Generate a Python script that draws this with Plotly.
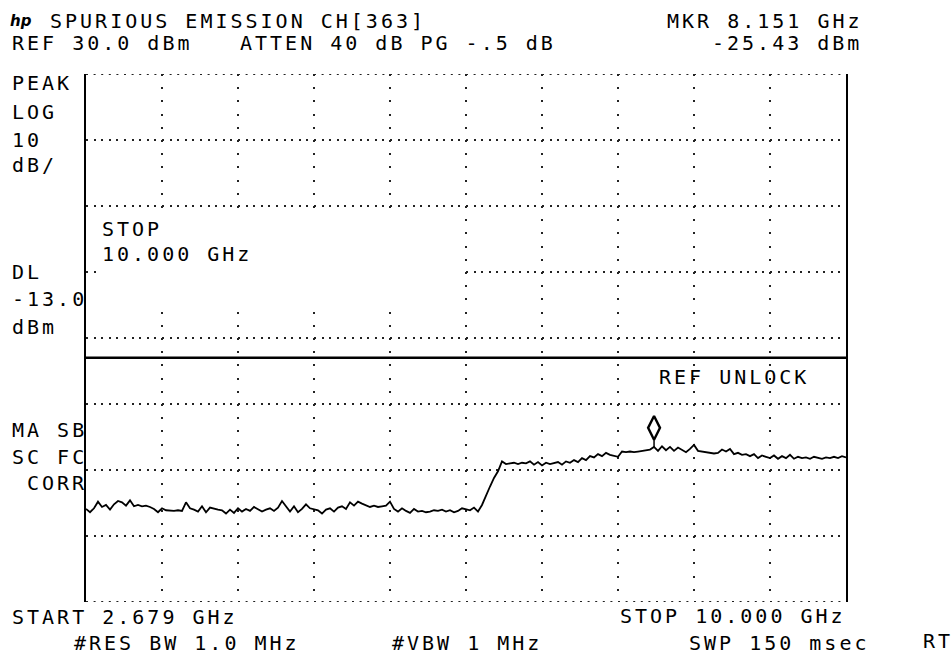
import numpy as np
import plotly.graph_objects as go

# ---------------- data ----------------
start_ghz = 2.679
stop_ghz = 10.000
ref_dbm = 30.0
db_per_div = 10
n_div_y = 8
n_div_x = 10
dl_dbm = -13.0
mkr_ghz = 8.151
mkr_dbm = -25.43

trace_dbm = [
    -35.9, -36.4, -35.8, -34.8, -35.6, -35.3, -36.0, -35.2, -34.7, -34.9,
    -35.4, -34.6, -35.5, -35.3, -35.5, -35.4, -35.6, -35.9, -36.4, -35.8,
    -36.1, -36.2, -36.2, -36.1, -36.2, -34.9, -35.8, -36.0, -36.3, -35.5,
    -36.4, -35.7, -35.9, -36.0, -36.1, -36.6, -36.0, -36.5, -35.8, -36.3,
    -35.9, -36.2, -35.6, -36.0, -36.3, -36.0, -35.8, -36.2, -35.7, -34.7,
    -35.6, -36.3, -35.5, -36.4, -35.9, -35.2, -35.8, -36.0, -36.1, -36.6,
    -36.0, -35.8, -36.3, -35.7, -35.5, -35.9, -34.9, -35.4, -34.8, -35.1,
    -35.3, -35.6, -35.4, -35.6, -35.5, -35.4, -34.8, -35.9, -36.3, -35.8,
    -36.2, -36.5, -35.9, -36.3, -36.2, -36.4, -36.3, -36.1, -36.2, -36.0,
    -36.3, -36.1, -36.4, -36.2, -35.8, -36.0, -36.1, -35.7, -36.3,
    -35.3, -33.8, -32.5, -31.2, -30.2, -28.7, -29.1,
    -29.0, -28.9, -29.1, -28.9, -29.0, -28.7, -29.2, -28.8, -29.3, -28.9,
    -29.1, -29.0, -28.8, -29.2, -28.7, -28.9, -28.5, -28.8, -28.2, -28.5,
    -27.9, -28.1, -27.6, -27.9, -27.4, -27.7, -27.8, -28.0, -27.2, -27.3,
    -27.2, -27.3, -27.2, -27.1, -27.0, -26.9, -26.5, -27.1, -26.4, -27.0,
    -26.5, -27.1, -26.6, -27.0, -27.3, -26.8, -26.2, -27.1, -27.2, -27.3,
    -27.3, -27.5, -27.4, -26.9, -27.2, -26.8, -27.6, -27.4, -27.7, -27.6,
    -27.9, -27.6, -28.2, -27.8, -28.0, -28.2, -27.8, -28.3, -27.9, -28.2,
    -27.7, -28.3, -28.0, -28.2, -28.1, -28.3, -28.0, -28.2, -28.3, -28.1,
    -28.2, -28.0, -28.2, -27.9, -28.1,
]

title_text = "SPURIOUS EMISSION CH[363]"
atten_text = "ATTEN 40 dB PG -.5 dB"
left_labels = ["PEAK", "LOG", "10", "dB/"]
dl_labels = ["DL", f"{dl_dbm:.1f}", "dBm"]
corr_labels = ["MA SB", "SC FC", "CORR"]
stop_box = ["STOP", f"{stop_ghz:.3f} GHz"]
unlock_text = "REF UNLOCK"
rbw_text = "#RES BW 1.0 MHz"
vbw_text = "#VBW 1 MHz"
swp_text = "SWP 150 msec"
rt_text = "RT"

# ---------------- figure ----------------
freq_ghz = np.linspace(start_ghz, stop_ghz, len(trace_dbm))
y_bottom = ref_dbm - n_div_y * db_per_div

W, H = 952, 664
L, T = 86, 74
R, B = W - 846, H - 602
PW, PH = W - L - R, H - T - B

def px(xp):
    return (xp - L) / PW

def py(yp):
    return (H - B - yp) / PH

FONT = "DejaVu Sans Mono"

def txt(s):
    return f'<span style="letter-spacing:3px">{s}</span>'

fig = go.Figure()

fig.add_trace(go.Scatter(x=freq_ghz, y=trace_dbm, mode="lines",
                         line=dict(color="black", width=1.8),
                         hoverinfo="skip"))

# marker stem + diamond (tip at the marker level)
idx = int(np.argmin(np.abs(freq_ghz - mkr_ghz)))
fig.add_trace(go.Scatter(x=[mkr_ghz, mkr_ghz], y=[mkr_dbm, trace_dbm[idx]],
                         mode="lines", line=dict(color="black", width=1.5),
                         hoverinfo="skip"))
diamond_offset_db = 12 / (PH / n_div_y) * db_per_div
fig.add_trace(go.Scatter(x=[mkr_ghz], y=[mkr_dbm + diamond_offset_db],
                         mode="markers",
                         marker=dict(symbol="diamond-tall-open", size=17,
                                     color="black", line=dict(width=2.4, color="black")),
                         hoverinfo="skip"))

# blanked box behind "STOP 10.000 GHz"
fig.add_shape(type="rect", xref="paper", yref="paper",
              x0=px(96), x1=px(463), y0=py(312), y1=py(209),
              fillcolor="white", line=dict(width=0), layer="above")

# dotted top / bottom edges of the graticule
for yv in (ref_dbm, y_bottom):
    fig.add_shape(type="line", xref="paper", yref="y", x0=0, x1=1, y0=yv, y1=yv,
                  line=dict(color="#222", width=2, dash="2px,5.6px"), layer="between")

# display line
fig.add_shape(type="line", xref="paper", yref="y", x0=0, x1=1,
              y0=dl_dbm, y1=dl_dbm, line=dict(color="black", width=2.6))

fig.update_xaxes(range=[start_ghz, stop_ghz], tick0=start_ghz,
                 dtick=(stop_ghz - start_ghz) / n_div_x,
                 showticklabels=False, ticks="", showgrid=True,
                 gridcolor="#222", gridwidth=2, griddash="2px,11.2px",
                 zeroline=False, showline=False)
fig.update_yaxes(range=[y_bottom, ref_dbm], tick0=y_bottom, dtick=db_per_div,
                 showticklabels=False, ticks="", showgrid=True,
                 gridcolor="#222", gridwidth=2, griddash="2px,5.6px",
                 zeroline=False, showline=True, mirror=True,
                 linecolor="black", linewidth=2)

annots = []

def add(text, xp, yp, anchor="left", size=20):
    annots.append(dict(text=txt(text), x=px(xp), y=py(yp), xref="paper", yref="paper",
                       xanchor=anchor, yanchor="middle", showarrow=False,
                       font=dict(family=FONT, size=size, color="black")))

annots.append(dict(text="<i><b>hp</b></i>", x=px(8), y=py(21), xref="paper", yref="paper",
                   xanchor="left", yanchor="middle", showarrow=False,
                   font=dict(family="DejaVu Sans", size=15, color="black")))
add(title_text, 48, 21)
add(f"MKR {mkr_ghz:.3f} GHz", 665, 21)
add(f"REF {ref_dbm:.1f} dBm", 10, 43)
add(atten_text, 238, 43)
add(f"{mkr_dbm:.2f} dBm", 710, 43)
for t, yp in zip(left_labels, [83, 112, 140, 165]):
    add(t, 10, yp)
for t, yp in zip(stop_box, [229, 254]):
    add(t, 100, yp)
for t, yp in zip(dl_labels, [272, 299, 327]):
    add(t, 10, yp)
add(unlock_text, 657, 377)
for t, xp, yp in zip(corr_labels, [10, 10, 25], [430, 457, 483]):
    add(t, xp, yp)
add(f"START {start_ghz:.3f} GHz", 10, 617)
add(rbw_text, 72, 643)
add(vbw_text, 390, 643)
add(f"STOP {stop_ghz:.3f} GHz", 618, 616)
add(swp_text, 687, 643)
add(rt_text, 921, 641)

fig.update_layout(width=W, height=H, margin=dict(l=L, r=R, t=T, b=B),
                  plot_bgcolor="white", paper_bgcolor="white",
                  showlegend=False, annotations=annots)

fig.write_html("out.html",
               config={"displayModeBar": False},
               post_script="document.body.style.margin='0';"
                           "document.body.style.overflow='hidden';")
